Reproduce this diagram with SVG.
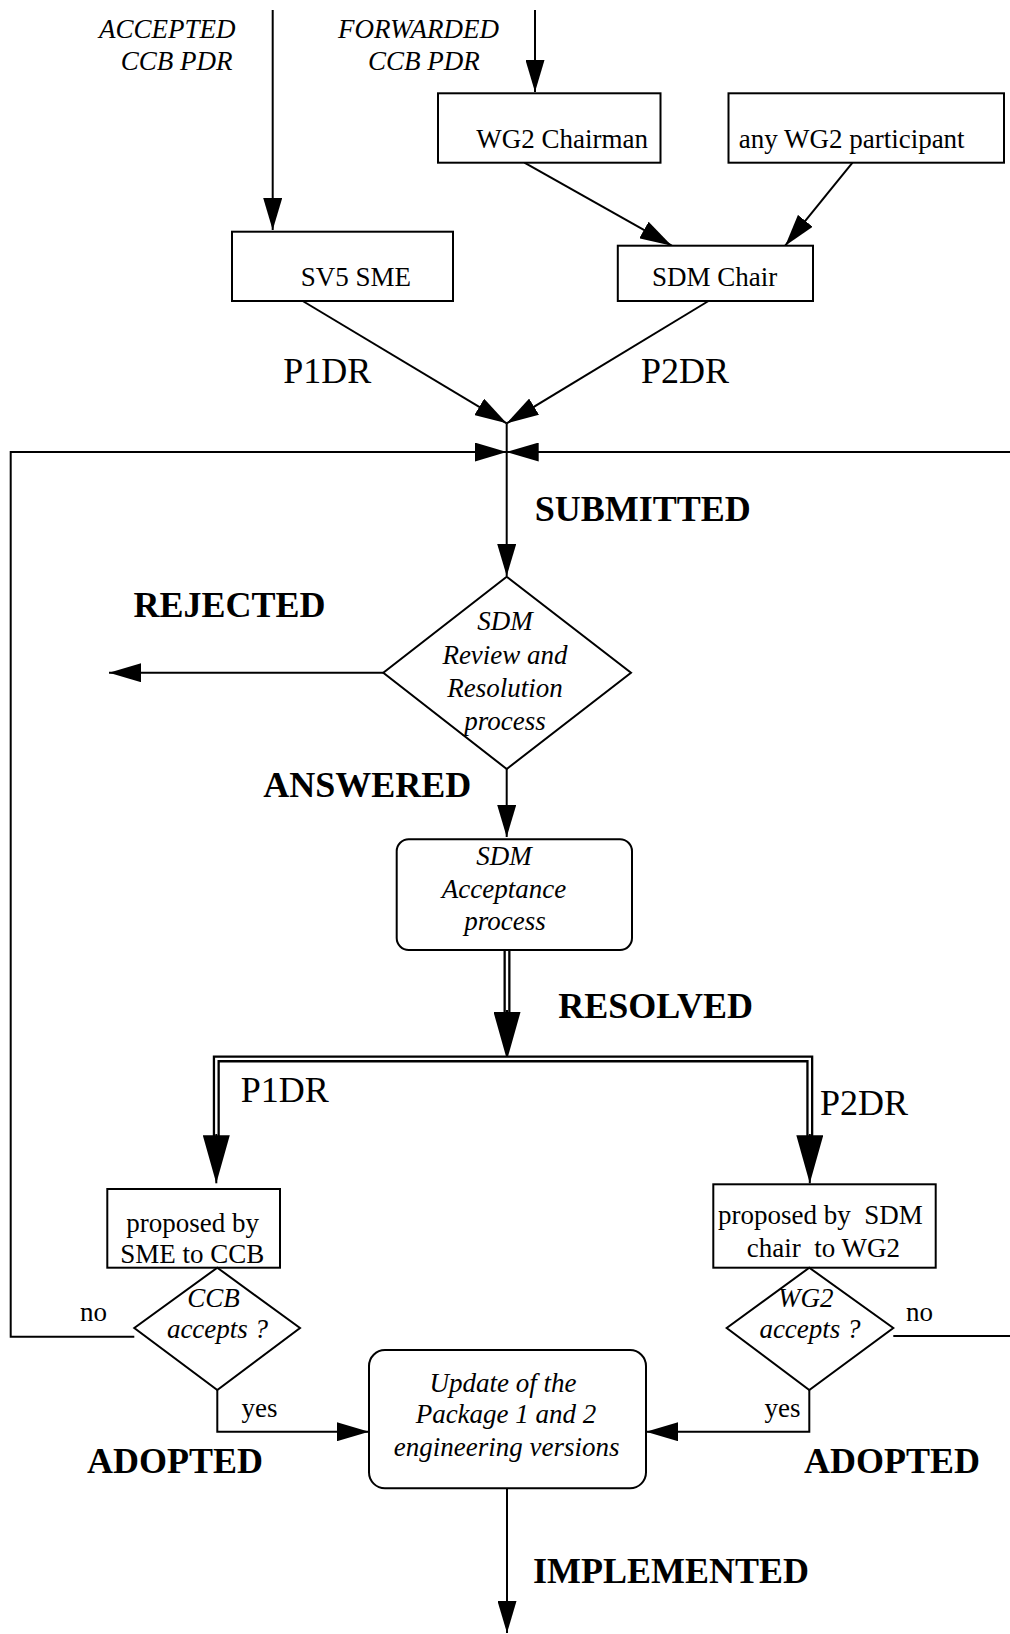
<svg xmlns="http://www.w3.org/2000/svg" width="1010" height="1634" viewBox="0 0 1010 1634">
<style>
text{font-family:"Liberation Serif","Times New Roman",serif;fill:#000}
.n{font-size:27px}
.i{font-size:27px;font-style:italic}
.lb{font-size:36px}
.st{font-size:36px;font-weight:bold}
.c{text-anchor:middle}
.box{fill:#fff;stroke:#000;stroke-width:2}
.ln{fill:none;stroke:#000;stroke-width:2}
.dbk{fill:none;stroke:#000;stroke-width:7}
.dwh{fill:none;stroke:#fff;stroke-width:2.4}
</style>
<defs>
<marker id="arr" markerUnits="userSpaceOnUse" markerWidth="32" markerHeight="19" viewBox="0 0 32 19" refX="32" refY="9.5" orient="auto"><path d="M0,0 L32,9.5 L0,19 z" fill="#000"/></marker>
<marker id="big" markerUnits="userSpaceOnUse" markerWidth="48" markerHeight="27" viewBox="0 0 48 27" refX="48" refY="13.5" orient="auto"><path d="M0,0 L48,13.5 L0,27 z" fill="#000"/></marker>
</defs>

<g id="labels">
<text class="i" x="99" y="37.7">ACCEPTED</text>
<text class="i" x="120.7" y="70">CCB PDR</text>
<text class="i" x="338" y="37.7">FORWARDED</text>
<text class="i" x="368" y="70">CCB PDR</text>
<text class="lb" x="283.3" y="382.7">P1DR</text>
<text class="lb" x="641" y="382.7">P2DR</text>
<text class="st" x="534.7" y="520.7">SUBMITTED</text>
<text class="st" x="133.4" y="617">REJECTED</text>
<text class="st" x="263.3" y="796.7">ANSWERED</text>
<text class="st" x="558.3" y="1018.3">RESOLVED</text>
<text class="lb" x="240.7" y="1101.7">P1DR</text>
<text class="lb" x="820" y="1115">P2DR</text>
<text class="n" x="80" y="1321">no</text>
<text class="n" x="906" y="1321">no</text>
<text class="n" x="241.5" y="1417">yes</text>
<text class="n" x="764.6" y="1417">yes</text>
<text class="st" x="87" y="1472.7">ADOPTED</text>
<text class="st" x="804" y="1472.7">ADOPTED</text>
<text class="st" x="533" y="1583.3">IMPLEMENTED</text>
</g>

<g id="connectors">
<path class="ln" d="M272.7 10 V230" marker-end="url(#arr)"/>
<path class="ln" d="M535 10 V92" marker-end="url(#arr)"/>
<path class="ln" d="M524.4 162.7 L671.8 245.7" marker-end="url(#arr)"/>
<path class="ln" d="M852.5 162.7 L785.2 245.7" marker-end="url(#arr)"/>
<path class="ln" d="M302.7 301 L506.7 423.3" marker-end="url(#arr)"/>
<path class="ln" d="M708.5 301 L506.7 423.3" marker-end="url(#arr)"/>
<path class="ln" d="M134.3 1336.7 H10.7 V452 H506.7" marker-end="url(#arr)"/>
<path class="ln" d="M893.3 1336 H1013 V452 H506.7" marker-end="url(#arr)"/>
<path class="ln" d="M506.7 423.3 V576" marker-end="url(#arr)"/>
<path class="ln" d="M383.3 672.7 H109" marker-end="url(#arr)"/>
<path class="ln" d="M506.7 769 V837" marker-end="url(#arr)"/>
<path class="dbk" d="M507 951 V1013"/>
<path class="dwh" d="M507 951 V1013"/>
<path class="ln" d="M507 1010 V1060" marker-end="url(#big)"/>
<path class="dbk" d="M216.3 1138 V1058.9 H809.8 V1138"/>
<path class="dwh" d="M216.3 1138 V1058.9 H809.8 V1138"/>
<path class="ln" d="M216.3 1134 V1183.3" marker-end="url(#big)"/>
<path class="ln" d="M809.8 1134 V1183.3" marker-end="url(#big)"/>
<path class="ln" d="M217.3 1390 V1431.7 H369" marker-end="url(#arr)"/>
<path class="ln" d="M809.3 1390 V1431.7 H646" marker-end="url(#arr)"/>
<path class="ln" d="M507 1488.3 V1633" marker-end="url(#arr)"/>
</g>

<g id="sv5-sme">
<rect class="box" x="232" y="231.7" width="221" height="69.3"/>
<text class="n" x="300.7" y="286">SV5 SME</text>
</g>
<g id="wg2-chairman">
<rect class="box" x="438" y="93.3" width="222.5" height="69.4"/>
<text class="n" x="476.3" y="147.7">WG2 Chairman</text>
</g>
<g id="wg2-participant">
<rect class="box" x="728.5" y="93.3" width="275.5" height="69.4"/>
<text class="n" x="738.7" y="147.7">any WG2 participant</text>
</g>
<g id="sdm-chair">
<rect class="box" x="617.8" y="245.7" width="195.2" height="55.3"/>
<text class="n" x="652" y="286">SDM Chair</text>
</g>
<g id="review">
<polygon class="box" points="506.7,576.7 631,672.7 506.7,769 383.3,672.7"/>
<text class="i c" x="505" y="630">SDM</text>
<text class="i c" x="505" y="664">Review and</text>
<text class="i c" x="505" y="696.7">Resolution</text>
<text class="i c" x="505" y="730">process</text>
</g>
<g id="acceptance">
<rect class="box" x="396.7" y="839.3" width="235.3" height="110.7" rx="12"/>
<text class="i c" x="504" y="865">SDM</text>
<text class="i c" x="504" y="898">Acceptance</text>
<text class="i c" x="505" y="930">process</text>
</g>
<g id="proposed-sme">
<rect class="box" x="107.3" y="1189" width="172.7" height="78.7"/>
<text class="n c" x="192.7" y="1231.7">proposed by</text>
<text class="n c" x="192.2" y="1263.3">SME to CCB</text>
</g>
<g id="proposed-sdm">
<rect class="box" x="713.3" y="1184.3" width="222.4" height="83.4"/>
<text class="n c" x="820.5" y="1224.3" xml:space="preserve">proposed by  SDM</text>
<text class="n c" x="823.4" y="1256.7" xml:space="preserve">chair  to WG2</text>
</g>
<g id="ccb-accepts">
<polygon class="box" points="217.3,1267.7 300,1328 217.3,1390 134.3,1328"/>
<text class="i c" x="213.5" y="1306.7">CCB</text>
<text class="i c" x="217.5" y="1338.3">accepts ?</text>
</g>
<g id="wg2-accepts">
<polygon class="box" points="809.3,1267.7 893.3,1328 809.3,1390 726.7,1328"/>
<text class="i c" x="805.8" y="1306.7">WG2</text>
<text class="i c" x="810" y="1338.3">accepts ?</text>
</g>
<g id="update">
<rect class="box" x="369" y="1350" width="277" height="138.3" rx="16"/>
<text class="i c" x="503" y="1391.7">Update of the</text>
<text class="i c" x="506" y="1423.3">Package 1 and 2</text>
<text class="i c" x="506.6" y="1456">engineering versions</text>
</g>
</svg>
